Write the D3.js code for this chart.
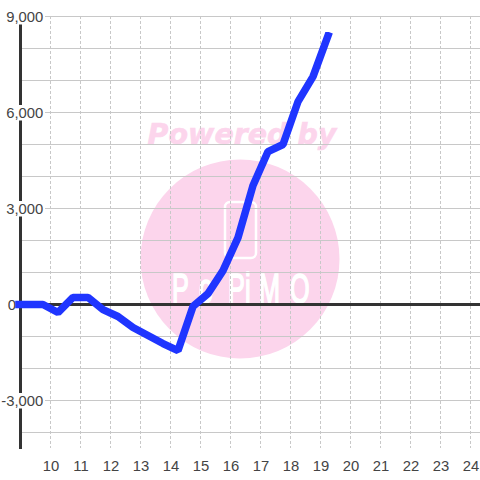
<!DOCTYPE html>
<html><head><meta charset="utf-8">
<script src="https://cdnjs.cloudflare.com/ajax/libs/d3/7.8.5/d3.min.js"></script>
<style>html,body{margin:0;padding:0;background:#fff}svg{display:block}text{font-family:"Liberation Sans",Arial,sans-serif}</style>
</head><body><svg id="c" width="480" height="480"></svg>
<script>
const hours=[8.95,9.75,10.25,10.75,11.25,11.75,12.25,12.75,13.25,13.75,14.25,14.75,15.25,15.75,16.25,16.75,17.25,17.75,18.25,18.75,19.25];
const values=[0,0,-250,220,220,-160,-375,-720,-970,-1220,-1440,-60,340,1060,2090,3720,4780,5000,6340,7120,8400];
const xTicks=[10,11,12,13,14,15,16,17,18,19,20,21,22,23,24];
const yLabelTicks=[9000,6000,3000,0,-3000];
const yGridTicks=[9000,8000,7000,6000,5000,4000,3000,2000,1000,-1000,-2000,-3000,-4000];
const svg=d3.select("#c");
const x=d3.scaleLinear().domain([9,24]).range([20.5,470.5]);
const y=d3.scaleLinear().domain([9000,-4500]).range([16.5,448.5]);
// watermark
const wm=svg.append("g");
wm.append("circle").attr("cx",240).attr("cy",259).attr("r",99.5).attr("fill","#fcd5ec");
wm.append("text").attr("x",242).attr("y",144).attr("text-anchor","middle").attr("fill","#fcd5ec").attr("stroke","#fcd5ec").attr("stroke-width",.6)
  .style("font-family","'DejaVu Sans'").style("font-weight","bold").style("font-style","italic").style("font-size","28.5px").text("Powered by");
wm.append("rect").attr("x",225).attr("y",202).attr("width",31).attr("height",56).attr("rx",5).attr("fill","none").attr("stroke","#fff").attr("stroke-width",2.5);
const sx=0.6;
wm.append("text").attr("transform",`scale(${sx},1)`).attr("x",[172,199,228,245,259,290].map(v=>v/sx).join(" ")).attr("y",303)
  .attr("fill","#fff").attr("stroke","#fff").attr("stroke-width",1.7)
  .style("font-family","'Liberation Sans'").style("font-size","42px").text("PoPiMO");
// grid
svg.append("g").selectAll("line").data(yGridTicks).join("line")
  .attr("x1",20).attr("x2",480).attr("y1",d=>y(d)).attr("y2",d=>y(d))
  .attr("stroke","#c8c8c8").attr("stroke-width",1);
svg.append("g").selectAll("line").data(xTicks).join("line")
  .attr("x1",d=>x(d)).attr("x2",d=>x(d)).attr("y1",16).attr("y2",448)
  .attr("stroke","#c8c8c8").attr("stroke-dasharray","3,2");
// axis lines
svg.append("line").attr("x1",20.5).attr("x2",20.5).attr("y1",16).attr("y2",449).attr("stroke","#333").attr("stroke-width",3);
svg.append("line").attr("x1",20).attr("x2",480).attr("y1",y(0)).attr("y2",y(0)).attr("stroke","#333").attr("stroke-width",3);
// y labels
const yl=svg.append("g").attr("transform","translate(44,0)").call(d3.axisLeft(y).tickValues(yLabelTicks).tickFormat(d=>d3.format(",")(d).replace("\u2212","-")).tickSize(0).tickPadding(1));
yl.select(".domain").remove();
yl.selectAll("text").attr("fill","#444").style("font-size","14.8px").attr("dy",null).attr("dominant-baseline",null)
  .attr("y",5).attr("x",d=>d===0?-28:-0.7);
yl.selectAll(".tick").filter(d=>d!==0).insert("rect","text").attr("x",-38).attr("width",39).attr("y",-8).attr("height",15.5).attr("fill","#fff");
yl.selectAll(".tick").filter(d=>d===-3000).select("rect").attr("x",-42).attr("width",43);
// x labels
const xl=svg.append("g").attr("transform","translate(0,452)").call(d3.axisBottom(x).tickValues(xTicks).tickFormat(d=>d).tickSize(0).tickPadding(0));
xl.select(".domain").remove();
xl.selectAll("text").attr("fill","#444").style("font-size","14.8px").attr("dy",null).attr("y",19);
// series
const clip=svg.append("clipPath").attr("id","top").append("rect").attr("x",0).attr("y",32).attr("width",480).attr("height",448);
svg.append("path").datum(hours.map((h,i)=>[h,values[i]])).attr("clip-path","url(#top)")
  .attr("d",d3.line().x(d=>x(d[0])).y(d=>y(d[1])))
  .attr("fill","none").attr("stroke","#1f35ff").attr("stroke-width",7.5).attr("stroke-linejoin","bevel").attr("stroke-linecap","square");
</script></body></html>
